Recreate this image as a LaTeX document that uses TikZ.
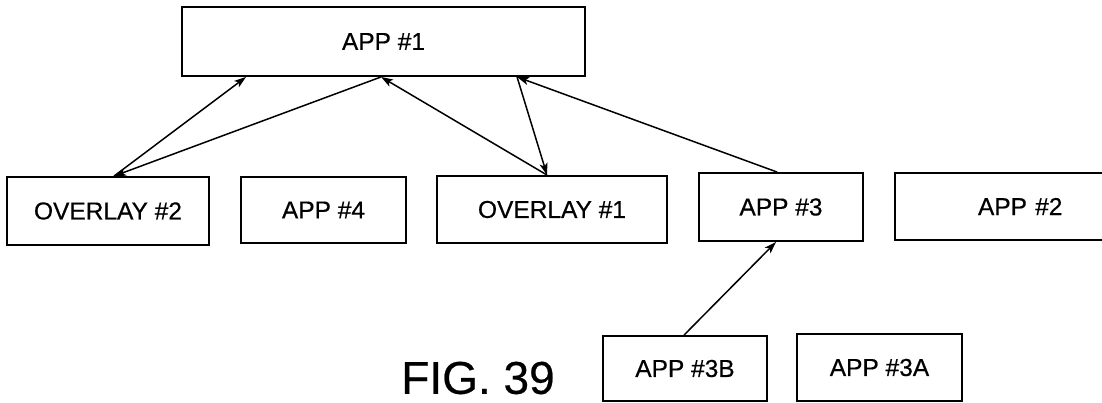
\documentclass[tikz,border=0pt]{standalone}
\usepackage{fontspec}
\setmainfont{Liberation Sans}
\newfontfamily\boxfont{Liberation Sans}[FakeBold=0.5]
\usetikzlibrary{arrows.meta}
\begin{document}
\begin{tikzpicture}[x=1pt,y=-1pt,
  box/.style={draw,line width=1.9pt,rectangle,inner sep=0pt,font=\boxfont\fontsize{24.5}{28}\selectfont},
  conn/.style={line width=1.5pt,-{Stealth[length=12pt,width=8pt,inset=3pt]}},
]
\useasboundingbox (0,0) rectangle (1102,402);
\begin{scope}
\clip (0,0) rectangle (1102,402);
\node[box,minimum width=403pt,minimum height=69pt] (app1) at (383.5,41.5) {APP \#1};
\node[box,minimum width=202pt,minimum height=68pt] (ov2) at (108,211) {OVERLAY \#2};
\node[box,minimum width=165pt,minimum height=66pt] (app4) at (323.5,210) {APP \#4};
\node[box,minimum width=230pt,minimum height=67pt] (ov1) at (552,209.5) {OVERLAY \#1};
\node[box,minimum width=164pt,minimum height=68pt] (app3) at (781,207) {APP \#3};
\node[box,minimum width=220pt,minimum height=67pt,text width=200pt,align=left] (app2) at (1005,206.5) {\hspace*{73pt}APP \#2};
\node[box,minimum width=164pt,minimum height=65pt] (app3b) at (685,368.5) {APP \#3B};
\node[box,minimum width=165pt,minimum height=67pt] (app3a) at (879.5,367.5) {APP \#3A};
\end{scope}
\node[font=\boxfont\fontsize{46}{50}\selectfont,inner sep=0pt] (fig) at (478,378) {FIG. 39};
% connectors
\draw[conn] ([xshift=108pt]ov2.north west) -- ([xshift=65pt]app1.south west);
\draw[conn] ([xshift=200pt]app1.south west) -- ([xshift=108pt]ov2.north west);
\draw[conn] ([xshift=111pt]ov1.north west) -- ([xshift=200pt]app1.south west);
\draw[conn] ([xshift=336pt]app1.south west) -- ([xshift=111pt]ov1.north west);
\draw[conn] ([xshift=79pt]app3.north west) -- ([xshift=336pt]app1.south west);
\draw[conn] ([xshift=82pt]app3b.north west) -- ([xshift=78pt]app3.south west);
\end{tikzpicture}
\end{document}
